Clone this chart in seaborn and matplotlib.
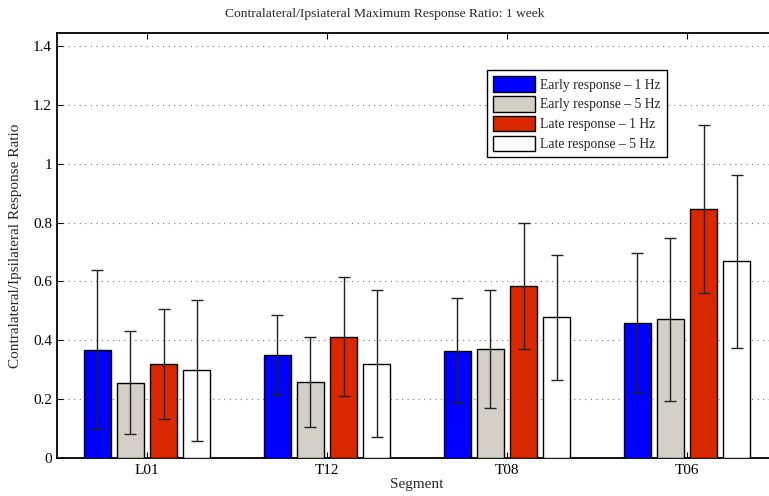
import numpy as np
import pandas as pd
import matplotlib
matplotlib.use("Agg")
import matplotlib.pyplot as plt
import seaborn as sns

segments = ["L01", "T12", "T08", "T06"]
series = ["Early response \u2013 1 Hz", "Early response \u2013 5 Hz",
          "Late response \u2013 1 Hz", "Late response \u2013 5 Hz"]
early_1hz = [0.368, 0.350, 0.365, 0.458]
early_5hz = [0.255, 0.259, 0.370, 0.471]
late_1hz = [0.320, 0.412, 0.585, 0.846]
late_5hz = [0.298, 0.320, 0.478, 0.668]
err_early_1hz = [0.270, 0.135, 0.178, 0.237]
err_early_5hz = [0.175, 0.153, 0.200, 0.276]
err_late_1hz = [0.187, 0.202, 0.215, 0.285]
err_late_5hz = [0.240, 0.250, 0.212, 0.294]
colors = ["#0000FF", "#D4D0C8", "#D92800", "#FFFFFF"]

values = [early_1hz, early_5hz, late_1hz, late_5hz]
errors = [err_early_1hz, err_early_5hz, err_late_1hz, err_late_5hz]

rows = []
for s, vals, errs in zip(series, values, errors):
    for seg, v, e in zip(segments, vals, errs):
        rows.append({"Segment": seg, "Series": s, "Value": v, "Err": e})
df = pd.DataFrame(rows)

sns.set_style("white")
plt.rcParams["font.family"] = ["Liberation Serif", "DejaVu Serif"]

fig = plt.figure(figsize=(7.69, 4.96), dpi=100)
ax = fig.add_axes([57/769, 38/496, 720/769, 425/496])

sns.barplot(data=df, x="Segment", y="Value", hue="Series", order=segments,
            hue_order=series, palette=colors, saturation=1, errorbar=None,
            width=0.74, gap=0.19, edgecolor="black", linewidth=1.0, ax=ax, zorder=3)

# error bars at the bar centres
for patch_group, errs in zip(ax.containers, errors):
    for patch, e in zip(patch_group.patches, errs):
        xc = patch.get_x() + patch.get_width() / 2
        ax.errorbar(xc, patch.get_height(), yerr=e, fmt="none", ecolor="#222222",
                    elinewidth=1.0, capsize=4, capthick=1.0, zorder=4)

ax.set_xlim(-0.5, 3.5)
ax.set_ylim(0, 1.444)
ax.set_yticks([0, 0.2, 0.4, 0.6, 0.8, 1.0, 1.2, 1.4])
ax.set_yticklabels(["0", "0.2", "0.4", "0.6", "0.8", "1", "1.2", "1.4"])
ax.yaxis.grid(True, linestyle=(0, (1, 4)), color="#777777", linewidth=0.8, zorder=0)
ax.set_axisbelow(True)
ax.tick_params(axis="both", direction="in", labelsize=11, length=4,
               top=True, bottom=True, left=True, right=False, colors="black")
ax.tick_params(axis="x", pad=4)
for side in ["left", "bottom", "top"]:
    ax.spines[side].set_visible(True)
    ax.spines[side].set_color("black")
    ax.spines[side].set_linewidth(1.3)
ax.spines["right"].set_visible(False)

ax.set_xlabel("Segment", fontsize=11, labelpad=1)
ax.set_ylabel("Contralateral/Ipsilateral Response Ratio", fontsize=11, labelpad=8)
fig.text(0.5, 1 - 14/496, "Contralateral/Ipsiateral Maximum Response Ratio: 1 week",
         ha="center", va="center", fontsize=9.7)

leg = ax.legend(loc="upper left", bbox_to_anchor=((487-57)/720, (458-70)/425),
                fontsize=9.8, frameon=True, fancybox=False, edgecolor="black",
                framealpha=1, handlelength=3.1, handleheight=1.4,
                handletextpad=0.35, borderpad=0.45, labelspacing=0.3, borderaxespad=0)
leg.get_frame().set_linewidth(1.0)

fig.savefig("out.png", dpi=100)
